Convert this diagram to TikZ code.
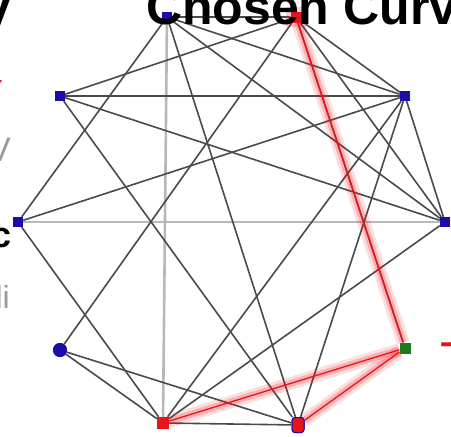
\documentclass[tikz,border=0pt]{standalone}
\usepackage{fontspec}
\setmainfont{Liberation Sans}
\newfontfamily\symfont{DejaVu Sans}
\usetikzlibrary{arrows.meta,positioning}
\definecolor{vtx}{HTML}{1C0CA8}
\definecolor{edge}{HTML}{4A4A4A}
\definecolor{faint}{HTML}{B8B8B8}
\definecolor{hot}{HTML}{E8141C}
\definecolor{leaf}{HTML}{1F7A1F}
\definecolor{txt2}{HTML}{9A9A9A}

\begin{document}
\begin{tikzpicture}[
  x=1pt, y=-1pt,
  vnode/.style={fill=vtx, minimum size=10pt, inner sep=0pt},
  rnode/.style={fill=hot, minimum size=11pt, inner sep=0pt},
  link/.style={draw=edge, line width=1.6pt},
  dimlink/.style={draw=faint, line width=2.6pt},
  hotlink/.style={draw=hot, line width=1.3pt,
    preaction={draw=hot, line width=13pt, opacity=.14},
    preaction={draw=hot, line width=7pt, opacity=.22}},
  frag/.style={inner sep=0pt, anchor=east},
]
\path[use as bounding box] (0,0) rectangle (451,437);
\clip (0,0) rectangle (451,437);

% vertices
\node[vnode] (ntl) at (167,17) {};
\node[rnode] (ntr) at (296,17) {};
\node[vnode] (nul) at (60,96) {};
\node[vnode] (nur) at (405,96) {};
\node[vnode] (nl) at (18,222) {};
\node[vnode] (nr) at (445,222) {};
\node[vnode, circle, minimum size=14pt] (nll) at (60,350) {};
\node[vnode, fill=leaf, minimum size=11pt] (nlr) at (405,348) {};
\node[rnode, minimum size=12pt] (nbl) at (163,423) {};
\node[rnode, draw=vtx, line width=1pt, rounded corners=3pt, minimum width=12pt, minimum height=15pt] (nbr) at (298,425) {};

% faint edges
\draw[dimlink] (ntl) -- (nbl);
\draw[dimlink] (nl) -- (nr);

% edges
\draw[link] (ntl) -- (ntr);
\draw[link] (ntl) -- (nur);
\draw[link] (ntl) -- (nl);
\draw[link] (ntl) -- (nr);
\draw[link] (ntl) -- (nbr);
\draw[link] (ntr) -- (nul);
\draw[link] (ntr) -- (nur);
\draw[link] (ntr) -- (nr);
\draw[link] (ntr) -- (nll);
\draw[link] (ntr) -- (nlr);
\draw[link] (nul) -- (nur);
\draw[link] (nul) -- (nr);
\draw[link] (nul) -- (nbr);
\draw[link] (nur) -- (nl);
\draw[link] (nur) -- (nr);
\draw[link] (nur) -- (nbl);
\draw[link] (nur) -- (nbr);
\draw[link] (nl) -- (nbl);
\draw[link] (nr) -- (nbl);
\draw[link] (nll) -- (nbl);
\draw[link] (nll) -- (nbr);
\draw[link] (nbl) -- (nbr);

% chosen path
\draw[hotlink] (ntr) -- (nlr);
\draw[hotlink] (nlr) -- (nbl);
\draw[hotlink] (nlr) -- (nbr);

% redraw vertices on top
\node[rnode, opacity=.2, minimum size=20pt] at (ntr) {};
\node[vnode] at (ntl) {};
\node[rnode] at (ntr) {};
\node[vnode] at (nul) {};
\node[vnode] at (nur) {};
\node[vnode] at (nl) {};
\node[vnode] at (nr) {};
\node[vnode, circle, minimum size=14pt] at (nll) {};
\node[vnode, fill=leaf, minimum size=11pt] at (nlr) {};
\node[rnode, minimum size=12pt] at (nbl) {};
\node[rnode, draw=vtx, line width=1pt, rounded corners=3pt, minimum width=12pt, minimum height=15pt] at (nbr) {};

% cut-off text around the picture
\node[inner sep=0pt, anchor=base west, font=\fontsize{50}{50}\selectfont\bfseries] (title) at (146,24) {Chosen Curve};
\node[inner sep=0pt, anchor=base east, font=\fontsize{50}{50}\selectfont\bfseries] (titlel) at (12,24) {y};
\node[frag, font=\symfont\fontsize{30}{30}\selectfont, text=hot] (tick) at (8,90) {✓};
\node[frag, font=\fontsize{34}{34}\selectfont, text=txt2] (fv) at (11,150) {V};
\node[frag, font=\fontsize{36}{36}\selectfont\bfseries] (fc) at (12,238) {c};
\node[frag, font=\fontsize{32}{32}\selectfont, text=txt2] (fi) at (10,297) {li};
\node[inner sep=0pt, anchor=west, font=\fontsize{40}{40}\selectfont\bfseries, text=hot] (fd) at (440,349) {–};
\end{tikzpicture}
\end{document}
